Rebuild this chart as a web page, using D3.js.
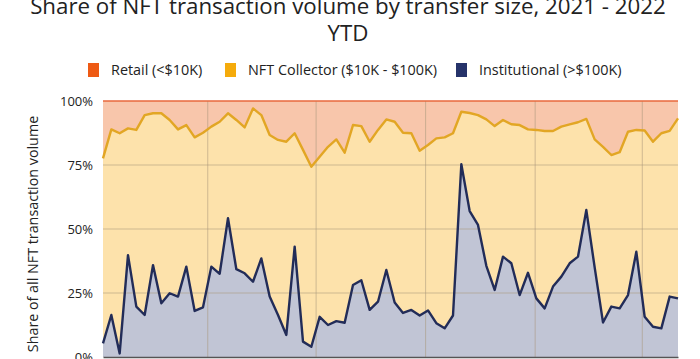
<!DOCTYPE html>
<html>
<head>
<meta charset="utf-8">
<script src="https://cdn.jsdelivr.net/npm/d3@7"></script>
<style>
  body { margin: 0; background: #fff; }
  text { font-family: "Open Sans", Lato, sans-serif; fill: #222; }
  .title { font-size: 22.3px; text-anchor: middle; }
  .legend text { font-size: 14.4px; }
  .axis-label { font-size: 14.3px; text-anchor: middle; }
  .y-axis text { font-size: 13px; }
</style>
</head>
<body>
<div id="chart"></div>
<script>
// weekly data, first week starts Jan 3 2021
const startWeek = new Date(2021, 0, 3);
const endWeek = new Date(2022, 4, 2);

// share of volume in %
const institutional = [
  5.3, 16.4, 1.4, 39.8, 19.7, 16.4, 35.9, 21, 24.9, 23.6,
  35.3, 18, 19.4, 35.3, 32.5, 54.2, 34.3, 32.7, 29.4, 38.5,
  23.6, 16.4, 8.6, 43.1, 6, 4, 15.7, 12.5, 14, 13.4,
  28.1, 30, 18.4, 21.6, 34, 21.3, 17.2, 18.4, 16.2, 18.2,
  13.2, 11.2, 16.2, 75.3, 57, 51.6, 35.6, 26.2, 39.2, 36.6,
  24.2, 32.9, 22.9, 19, 27.5, 31.4, 36.6, 39.2, 57.4, 35,
  13.5, 19.7, 19, 24.2, 41.1, 15.7, 11.8, 11.2, 23.6, 22.9
];
const retail = [
  22.4, 11.1, 12.6, 10.7, 11.3, 5.5, 4.8, 4.8, 7.4, 11.1,
  9.4, 14.2, 12.4, 10, 8.1, 4.8, 7.4, 10.3, 2.9, 5.5,
  13.3, 15.2, 15.9, 12.6, 19.1, 25.7, 21.8, 17.9, 15, 20.2,
  9.4, 9.8, 15.9, 11.3, 7.2, 8.1, 12.4, 12.6, 19.4, 17.2,
  14.6, 14.2, 12.6, 4.2, 4.7, 5.5, 7.2, 9.8, 7.4, 9.1,
  9.4, 11.1, 11.3, 11.7, 11.7, 10, 9.1, 8.3, 7, 15,
  17.9, 21.1, 20, 12, 11.3, 11.5, 15.9, 12.6, 11.7, 6.8
];
// the three groups add up to 100%
const collector = institutional.map((v, i) => 100 - v - retail[i]);

const weeks = d3.timeWeek.range(startWeek, endWeek);

const seriesKeys = ["institutional", "collector", "retail"];
const legendLabels = ["Retail (<$10K)", "NFT Collector ($10K - $100K)", "Institutional (>$100K)"];
const legendColors = ["#ee5a14", "#f5ab0c", "#26336a"];
const yTicks = [0, 25, 50, 75, 100];

const data = weeks.map((d, i) => ({
  date: d,
  institutional: institutional[i],
  collector: collector[i],
  retail: retail[i]
}));

const margin = { top: 101, right: 22, bottom: 2, left: 103 },
      width = 700 - margin.left - margin.right,
      height = 359 - margin.top - margin.bottom;

const svgFull = d3.select("#chart").append("svg")
    .attr("width", 700)
    .attr("height", 359);

// title (first line runs off the top of the picture)
svgFull.append("text").attr("class", "title")
    .attr("x", 348).attr("y", 14)
    .text("Share of NFT transaction volume by transfer size, 2021 - 2022");
svgFull.append("text").attr("class", "title")
    .attr("x", 348).attr("y", 41)
    .text("YTD");

// legend
const legendX = [88, 225, 456];
const legend = svgFull.append("g").attr("class", "legend");
legendLabels.forEach((lab, i) => {
  legend.append("rect")
      .attr("x", legendX[i]).attr("y", 63)
      .attr("width", 11).attr("height", 14)
      .attr("fill", legendColors[i]);
  legend.append("text")
      .attr("x", legendX[i] + 23).attr("y", 75)
      .text(lab);
});

const svg = svgFull.append("g")
    .attr("transform", `translate(${margin.left},${margin.top})`);

const x = d3.scaleTime()
    .domain(d3.extent(weeks))
    .range([0, width]);

const y = d3.scaleLinear()
    .domain([0, 100])
    .range([height, 0]);

const stacked = d3.stack().keys(seriesKeys)(data);

const fills = { institutional: "#c1c5d5", collector: "#fde2ab", retail: "#f8c6ab" };

const area = d3.area()
    .x(d => x(d.data.date))
    .y0(d => y(d[0]))
    .y1(d => y(d[1]));

svg.selectAll(".layer")
    .data(stacked)
    .enter()
    .append("path")
    .attr("class", "layer")
    .attr("fill", d => fills[d.key])
    .attr("d", area);

// grid lines
svg.append("g")
    .selectAll("line.h")
    .data(yTicks.filter(t => t > 0 && t < 100))
    .enter().append("line")
    .attr("x1", 0).attr("x2", width)
    .attr("y1", d => y(d)).attr("y2", d => y(d))
    .attr("stroke", "#a8957a").attr("stroke-opacity", 0.55);

svg.append("g")
    .selectAll("line.v")
    .data(x.ticks(d3.timeMonth.every(3)))
    .enter().append("line")
    .attr("x1", d => x(d)).attr("x2", d => x(d))
    .attr("y1", 0).attr("y2", height)
    .attr("stroke", "#a8957a").attr("stroke-opacity", 0.55);

// top edge at 100%
svg.append("line")
    .attr("x1", 0).attr("x2", width)
    .attr("y1", y(100)).attr("y2", y(100))
    .attr("stroke", "#e8683c").attr("stroke-width", 1.5);

// boundary lines
const lineOf = layer => d3.line()
    .x(d => x(d.data.date))
    .y(d => y(d[1]))(layer);

svg.append("path")
    .attr("fill", "none")
    .attr("stroke", "#e2a624")
    .attr("stroke-width", 2.4)
    .attr("stroke-linejoin", "round")
    .attr("d", lineOf(stacked[1]));

svg.append("path")
    .attr("fill", "none")
    .attr("stroke", "#222c58")
    .attr("stroke-width", 2.4)
    .attr("stroke-linejoin", "round")
    .attr("d", lineOf(stacked[0]));

// axes
svg.append("g")
    .attr("class", "y-axis")
    .call(d3.axisLeft(y).tickValues(yTicks).tickFormat(d => d + "%").tickSize(0).tickPadding(10))
    .call(g => g.select(".domain").remove());

// x axis: only the baseline is inside the picture, the date labels fall below it
svg.append("g")
    .attr("transform", `translate(0,${height})`)
    .call(d3.axisBottom(x).ticks(d3.timeMonth.every(3)).tickSize(0).tickFormat(""))
    .call(g => g.select(".domain").attr("stroke", "#555").attr("stroke-width", 1.5));

// y-axis label
svgFull.append("text")
    .attr("class", "axis-label")
    .attr("transform", "rotate(-90)")
    .attr("x", -234)
    .attr("y", 38)
    .text("Share of all NFT transaction volume");
</script>
</body>
</html>
